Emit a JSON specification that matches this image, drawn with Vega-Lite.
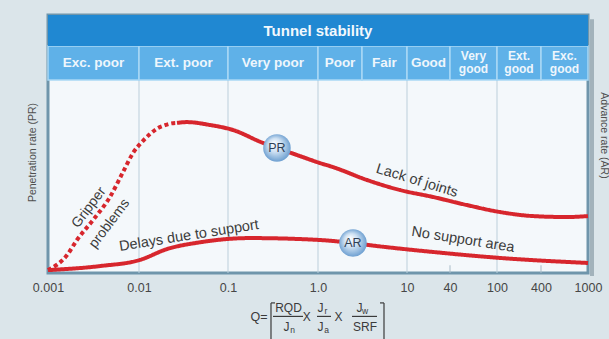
{
  "$schema": "https://vega.github.io/schema/vega-lite/v6.json",
  "width": 540,
  "height": 258,
  "autosize": {"type": "none"},
  "padding": {"left": 48, "top": 15, "right": 21, "bottom": 66},
  "background": "#dbe5ea",
  "config": {
    "font": "Liberation Sans",
    "view": {"stroke": "#6f95ab", "strokeWidth": 3, "fill": "#f4f8fb"}
  },
  "datasets": {
    "curves": [
      {"series": "PR", "seg": "dashed", "q": 0.001, "r": 1.5},
      {"series": "PR", "seg": "dashed", "q": 0.00162, "r": 9.3},
      {"series": "PR", "seg": "dashed", "q": 0.00208, "r": 17.1},
      {"series": "PR", "seg": "dashed", "q": 0.00313, "r": 27.5},
      {"series": "PR", "seg": "dashed", "q": 0.0048, "r": 39.4},
      {"series": "PR", "seg": "dashed", "q": 0.00667, "r": 52.3},
      {"series": "PR", "seg": "dashed", "q": 0.0086, "r": 62.2},
      {"series": "PR", "seg": "dashed", "q": 0.0111, "r": 68.5},
      {"series": "PR", "seg": "dashed", "q": 0.0133, "r": 72.0},
      {"series": "PR", "seg": "dashed", "q": 0.0159, "r": 74.8},
      {"series": "PR", "seg": "dashed", "q": 0.0196, "r": 76.6},
      {"series": "PR", "seg": "dashed", "q": 0.0223, "r": 77.4},
      {"series": "PR", "seg": "dashed", "q": 0.0267, "r": 77.8},
      {"series": "PR", "seg": "solid", "q": 0.0267, "r": 77.8},
      {"series": "PR", "seg": "solid", "q": 0.0346, "r": 78.2},
      {"series": "PR", "seg": "solid", "q": 0.0628, "r": 76.7},
      {"series": "PR", "seg": "solid", "q": 0.1137, "r": 74.1},
      {"series": "PR", "seg": "solid", "q": 0.245, "r": 67.4},
      {"series": "PR", "seg": "solid", "q": 0.35, "r": 64.8},
      {"series": "PR", "seg": "solid", "q": 0.63, "r": 60.6},
      {"series": "PR", "seg": "solid", "q": 1.06, "r": 57.0},
      {"series": "PR", "seg": "solid", "q": 1.6, "r": 54.9},
      {"series": "PR", "seg": "solid", "q": 4.43, "r": 48.2},
      {"series": "PR", "seg": "solid", "q": 8.67, "r": 43.0},
      {"series": "PR", "seg": "solid", "q": 23.1, "r": 39.4},
      {"series": "PR", "seg": "solid", "q": 55.7, "r": 35.2},
      {"series": "PR", "seg": "solid", "q": 110, "r": 31.6},
      {"series": "PR", "seg": "solid", "q": 311, "r": 29.5},
      {"series": "PR", "seg": "solid", "q": 664, "r": 29.0},
      {"series": "PR", "seg": "solid", "q": 1000, "r": 29.5},
      {"series": "AR", "seg": "solid", "q": 0.001, "r": 1.5},
      {"series": "AR", "seg": "solid", "q": 0.00373, "r": 3.6},
      {"series": "AR", "seg": "solid", "q": 0.0103, "r": 6.8},
      {"series": "AR", "seg": "solid", "q": 0.0206, "r": 12.4},
      {"series": "AR", "seg": "solid", "q": 0.0484, "r": 15.9},
      {"series": "AR", "seg": "solid", "q": 0.175, "r": 18.1},
      {"series": "AR", "seg": "solid", "q": 1.06, "r": 17.1},
      {"series": "AR", "seg": "solid", "q": 3.01, "r": 15.5},
      {"series": "AR", "seg": "solid", "q": 6.14, "r": 13.6},
      {"series": "AR", "seg": "solid", "q": 23.1, "r": 10.9},
      {"series": "AR", "seg": "solid", "q": 110, "r": 7.8},
      {"series": "AR", "seg": "solid", "q": 1000, "r": 5.2}
    ],
    "bands": [
      {"label": "Exc. poor", "lines": 1, "lo": 0.001, "hi": 0.01, "mid": 0.00316},
      {"label": "Ext. poor", "lines": 1, "lo": 0.01, "hi": 0.1, "mid": 0.0316},
      {"label": "Very poor", "lines": 1, "lo": 0.1, "hi": 1, "mid": 0.316},
      {"label": "Poor", "lines": 1, "lo": 1, "hi": 4, "mid": 2},
      {"label": "Fair", "lines": 1, "lo": 4, "hi": 10, "mid": 6.32},
      {"label": "Good", "lines": 1, "lo": 10, "hi": 40, "mid": 20},
      {"label": "Very\ngood", "lines": 2, "lo": 40, "hi": 100, "mid": 63.2},
      {"label": "Ext.\ngood", "lines": 2, "lo": 100, "hi": 400, "mid": 200},
      {"label": "Exc.\ngood", "lines": 2, "lo": 400, "hi": 1000, "mid": 632}
    ],
    "grid": [{"q": 0.01}, {"q": 0.1}, {"q": 1}, {"q": 10}, {"q": 100}],
    "markers": [
      {"label": "PR", "q": 0.35, "r": 64.8},
      {"label": "AR", "q": 3.01, "r": 15.5}
    ],
    "formula": [
      {"t": "RQD", "q": 0.47, "r": -18.1},
      {"t": "J", "q": 0.447, "r": -28.0},
      {"t": "X", "q": 0.75, "r": -22.8},
      {"t": "J", "q": 1.082, "r": -18.1},
      {"t": "J", "q": 1.082, "r": -28.0},
      {"t": "X", "q": 1.908, "r": -22.8},
      {"t": "J", "q": 3.7, "r": -18.1},
      {"t": "SRF", "q": 4.25, "r": -28.0}
    ],
    "subs": [
      {"t": "n", "q": 0.521, "r": -29.6},
      {"t": "r", "q": 1.287, "r": -19.7},
      {"t": "a", "q": 1.307, "r": -29.6},
      {"t": "w", "q": 4.25, "r": -19.7}
    ],
    "strokes": [
      {"q": 0.316, "q2": 0.681, "r": -22.5, "r2": -22.5},
      {"q": 0.975, "q2": 1.506, "r": -22.5, "r2": -22.5},
      {"q": 2.92, "q2": 5.43, "r": -22.5, "r2": -22.5},
      {"q": 0.3004, "q2": 0.3004, "r": -15.5, "r2": -35},
      {"q": 0.3004, "q2": 0.3328, "r": -15.5, "r2": -15.5},
      {"q": 6.26, "q2": 6.26, "r": -15.5, "r2": -35},
      {"q": 5.77, "q2": 6.26, "r": -15.5, "r2": -15.5}
    ]
  },
  "resolve": {"axis": {"y": "independent"}},
  "layer": [
    {
      "data": {"values": [{}]},
      "mark": {"type": "rule", "color": "#8a9ca7", "strokeWidth": 4, "opacity": 0.7, "xOffset": 4},
      "encoding": {
        "x": {"datum": 1000},
        "y": {"datum": -1.5, "axis": null},
        "y2": {"datum": 131.5}
      }
    },
    {
      "data": {"name": "grid"},
      "mark": {"type": "rule", "color": "#bccfdb", "strokeWidth": 1},
      "encoding": {
        "x": {
          "field": "q",
          "type": "quantitative",
          "scale": {
            "type": "log",
            "domain": [0.001, 0.01, 0.1, 1, 4, 10, 40, 100, 400, 1000],
            "range": [0, 91, 180, 270, 314, 359, 402, 449, 493, 540],
            "nice": false
          },
          "axis": {
            "values": [0.001, 0.01, 0.1, 1, 10, 40, 100, 400, 1000],
            "labelExpr": "datum.value == 1 ? '1.0' : format(datum.value, '~g')",
            "domain": false,
            "ticks": false,
            "grid": false,
            "title": null,
            "labelFontSize": 12.5,
            "labelColor": "#464646",
            "labelPadding": 8,
            "labelOverlap": false,
            "labelFlush": false,
            "labelBound": false
          }
        },
        "y": {"datum": 0, "axis": null},
        "y2": {"datum": 100}
      }
    },
    {
      "data": {"values": [{"q": 40}, {"q": 400}]},
      "mark": {"type": "rule", "color": "#a9bcc8", "strokeWidth": 1},
      "encoding": {
        "x": {"field": "q", "type": "quantitative"},
        "y": {"datum": 0, "axis": null},
        "y2": {"datum": 4}
      }
    },
    {
      "data": {"name": "bands"},
      "mark": {"type": "rect", "fill": "#5fb1e8", "stroke": "#a9d7f5", "strokeWidth": 1.5},
      "encoding": {
        "x": {"field": "lo", "type": "quantitative"},
        "x2": {"field": "hi"},
        "y": {"datum": 100, "axis": null},
        "y2": {"datum": 117.6}
      }
    },
    {
      "data": {"values": [{}]},
      "mark": {"type": "rect", "fill": "#2088d2"},
      "encoding": {
        "x": {"datum": 0.001},
        "x2": {"datum": 1000},
        "y": {"datum": 117.6, "axis": null},
        "y2": {"datum": 133.7}
      }
    },
    {
      "data": {"values": [{}]},
      "mark": {"type": "text", "fontSize": 15, "fontWeight": "bold", "fill": "#f2f8fd", "baseline": "middle"},
      "encoding": {
        "x": {"datum": 1},
        "y": {"datum": 125.4, "axis": null},
        "text": {"value": "Tunnel stability"}
      }
    },
    {
      "data": {"name": "bands"},
      "transform": [{"filter": "datum.lines == 1"}],
      "mark": {"type": "text", "fontSize": 13.5, "fontWeight": "bold", "fill": "#eef6fc", "baseline": "middle"},
      "encoding": {
        "x": {"field": "mid", "type": "quantitative"},
        "y": {"datum": 108.8, "axis": null},
        "text": {"field": "label"}
      }
    },
    {
      "data": {"name": "bands"},
      "transform": [{"filter": "datum.lines == 2"}],
      "mark": {"type": "text", "fontSize": 12, "fontWeight": "bold", "fill": "#eef6fc", "baseline": "middle", "lineBreak": "\n", "lineHeight": 12.5},
      "encoding": {
        "x": {"field": "mid", "type": "quantitative"},
        "y": {"datum": 112.2, "axis": null},
        "text": {"field": "label"}
      }
    },
    {
      "data": {"name": "curves"},
      "mark": {"type": "line", "color": "#d7262d", "strokeWidth": 4, "interpolate": "monotone"},
      "encoding": {
        "x": {"field": "q", "type": "quantitative"},
        "y": {
          "field": "r",
          "type": "quantitative",
          "scale": {"domain": [0, 133.7], "nice": false, "zero": false},
          "axis": {
            "orient": "left",
            "title": "Penetration rate (PR)",
            "titleFontSize": 10.5,
            "titleFontWeight": "normal",
            "titleColor": "#4f4f4f",
            "titlePadding": 11,
            "titleY": 137,
            "labels": false,
            "ticks": false,
            "domain": false,
            "grid": false
          }
        },
        "detail": {"field": "series"},
        "strokeDash": {
          "field": "seg",
          "type": "nominal",
          "scale": {"domain": ["solid", "dashed"], "range": [[1, 0], [4, 3]]},
          "legend": null
        }
      }
    },
    {
      "data": {"name": "markers"},
      "mark": {
        "type": "circle",
        "size": 760,
        "opacity": 1,
        "fill": {
          "gradient": "radial",
          "x1": 0.38, "y1": 0.32, "r1": 0,
          "x2": 0.5, "y2": 0.5, "r2": 0.55,
          "stops": [
            {"offset": 0, "color": "#ffffff"},
            {"offset": 0.45, "color": "#cde0f2"},
            {"offset": 1, "color": "#5f96cc"}
          ]
        }
      },
      "encoding": {
        "x": {"field": "q", "type": "quantitative"},
        "y": {
          "field": "r",
          "type": "quantitative",
          "axis": {
            "orient": "right",
            "title": "Advance rate (AR)",
            "titleFontSize": 10.5,
            "titleFontWeight": "normal",
            "titleColor": "#4f4f4f",
            "titlePadding": 10,
            "titleY": 120,
            "labels": false,
            "ticks": false,
            "domain": false,
            "grid": false
          }
        }
      }
    },
    {
      "data": {"name": "markers"},
      "mark": {"type": "text", "fontSize": 12.5, "fill": "#2f3f55", "baseline": "middle"},
      "encoding": {
        "x": {"field": "q", "type": "quantitative"},
        "y": {"field": "r", "type": "quantitative", "axis": null},
        "text": {"field": "label"}
      }
    },
    {
      "data": {"values": [{}]},
      "mark": {"type": "text", "fontSize": 14, "fill": "#3c3c3c", "baseline": "middle", "angle": -53},
      "encoding": {
        "x": {"datum": 0.00282},
        "y": {"datum": 33.9, "axis": null},
        "text": {"value": "Gripper"}
      }
    },
    {
      "data": {"values": [{}]},
      "mark": {"type": "text", "fontSize": 14, "fill": "#3c3c3c", "baseline": "middle", "angle": -53},
      "encoding": {
        "x": {"datum": 0.00474},
        "y": {"datum": 25.6, "axis": null},
        "text": {"value": "problems"}
      }
    },
    {
      "data": {"values": [{}]},
      "mark": {"type": "text", "fontSize": 14.5, "fill": "#3c3c3c", "baseline": "middle", "angle": -9},
      "encoding": {
        "x": {"datum": 0.0365},
        "y": {"datum": 19.2, "axis": null},
        "text": {"value": "Delays due to support"}
      }
    },
    {
      "data": {"values": [{}]},
      "mark": {"type": "text", "fontSize": 14.5, "fill": "#3c3c3c", "baseline": "middle", "angle": 17},
      "encoding": {
        "x": {"datum": 13.8},
        "y": {"datum": 47.7, "axis": null},
        "text": {"value": "Lack of joints"}
      }
    },
    {
      "data": {"values": [{}]},
      "mark": {"type": "text", "fontSize": 14.5, "fill": "#3c3c3c", "baseline": "middle", "angle": 9},
      "encoding": {
        "x": {"datum": 51.5},
        "y": {"datum": 17.1, "axis": null},
        "text": {"value": "No support area"}
      }
    },
    {
      "data": {"values": [{}]},
      "mark": {"type": "text", "fontSize": 12.5, "fill": "#3a3a3a", "baseline": "middle"},
      "encoding": {
        "x": {"datum": 0.221},
        "y": {"datum": -22.8, "axis": null},
        "text": {"value": "Q="}
      }
    },
    {
      "data": {"name": "formula"},
      "mark": {"type": "text", "fontSize": 12, "fill": "#3a3a3a", "baseline": "middle"},
      "encoding": {
        "x": {"field": "q", "type": "quantitative"},
        "y": {"field": "r", "type": "quantitative", "axis": null},
        "text": {"field": "t"}
      }
    },
    {
      "data": {"name": "subs"},
      "mark": {"type": "text", "fontSize": 8.5, "fill": "#3a3a3a", "baseline": "middle"},
      "encoding": {
        "x": {"field": "q", "type": "quantitative"},
        "y": {"field": "r", "type": "quantitative", "axis": null},
        "text": {"field": "t"}
      }
    },
    {
      "data": {"name": "strokes"},
      "mark": {"type": "rule", "color": "#3a3a3a", "strokeWidth": 1.2},
      "encoding": {
        "x": {"field": "q", "type": "quantitative"},
        "x2": {"field": "q2"},
        "y": {"field": "r", "type": "quantitative", "axis": null},
        "y2": {"field": "r2"}
      }
    }
  ]
}
